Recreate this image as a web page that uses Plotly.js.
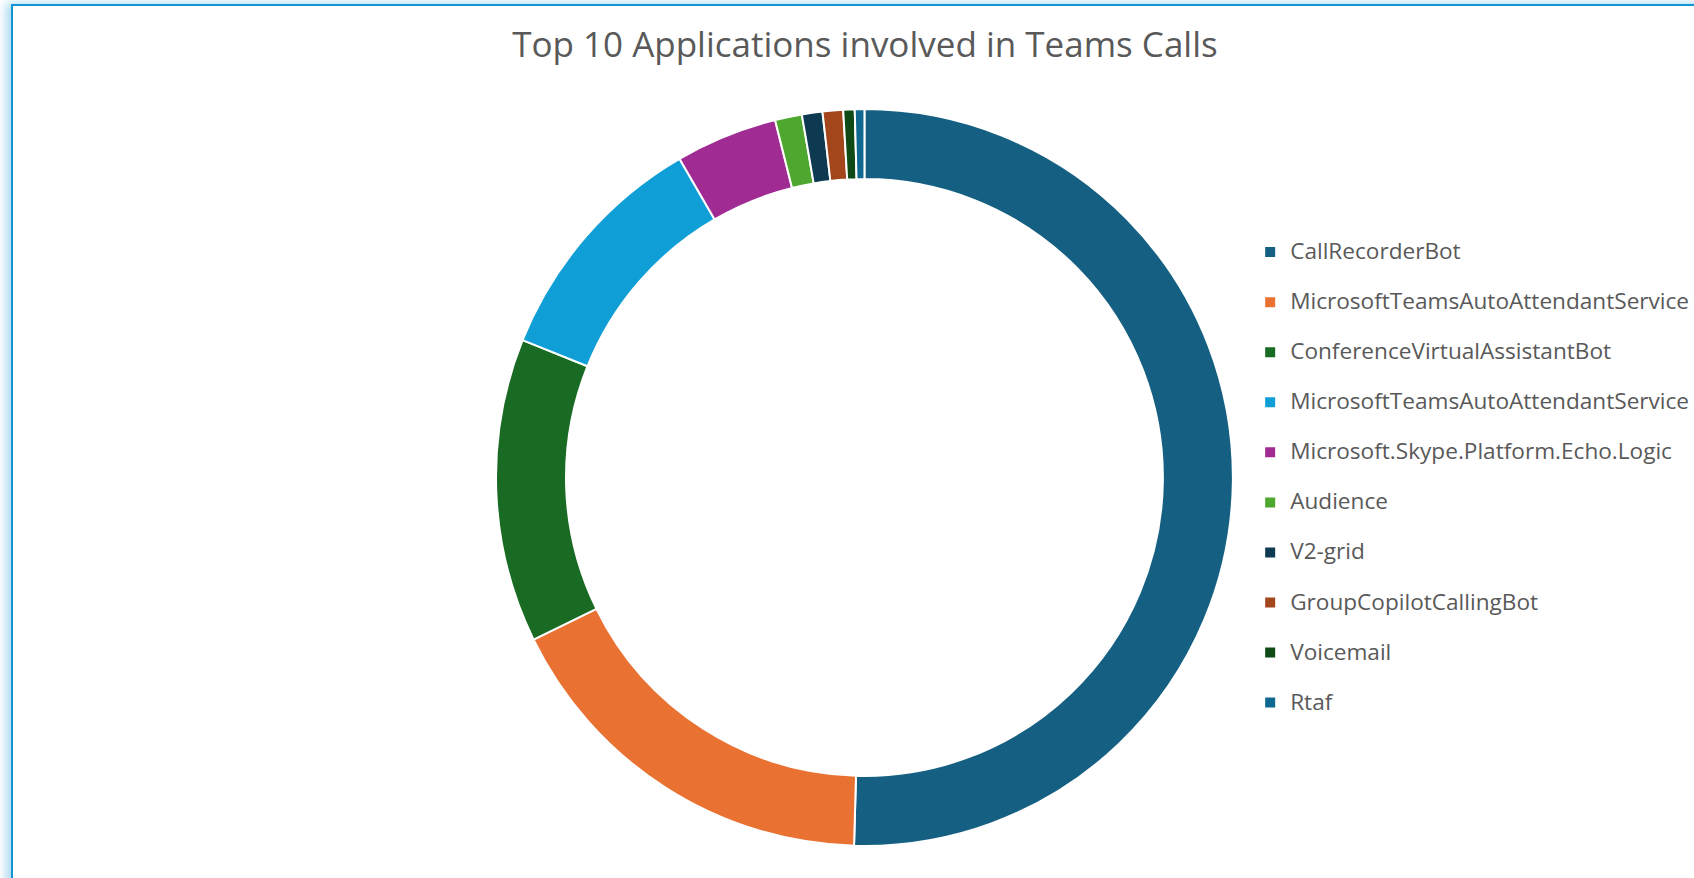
<!DOCTYPE html>
<html>
<head>
<meta charset="utf-8">
<script src="https://cdn.plot.ly/plotly-3.0.1.min.js"></script>
<style>
  html, body { margin: 0; padding: 0; background: #ffffff; overflow: hidden; }
  #frame { position: absolute; left: 11px; top: 4px; width: 2000px; height: 2000px;
           border: 2px solid #1196d3; box-shadow: -5px -1px 9px rgba(17,150,211,0.35); background: #fff; }
  #chart { position: absolute; left: 0; top: 0; width: 1694px; height: 878px; }
</style>
</head>
<body>
<div id="frame"></div>
<div id="chart"></div>
<script>
// Data (approximate shares in %)
const categories = [
  "CallRecorderBot",
  "MicrosoftTeamsAutoAttendantService",
  "ConferenceVirtualAssistantBot",
  "MicrosoftTeamsAutoAttendantService",
  "Microsoft.Skype.Platform.Echo.Logic",
  "Audience",
  "V2-grid",
  "GroupCopilotCallingBot",
  "Voicemail",
  "Rtaf"
];
const values = [50.45, 17.3, 13.33, 10.55, 4.47, 1.18, 0.9, 0.9, 0.5, 0.42];
const colors = ["#156082", "#E97132", "#196B24", "#0F9ED5", "#A02B93",
                "#4EA72E", "#0D3A50", "#A3461C", "#0F4A16", "#0E6890"];

// Pie merges identical labels, so keep duplicates distinct with a zero-width marker;
// the trailing blank line gives legend rows their taller spacing.
const seen = {};
const labels = categories.map(c => {
  let l = c;
  while (seen[l]) l += "\u200b";
  seen[l] = true;
  return "<span style='font-size:22.6px'>" + l + "</span><br>\u00a0";
});

const trace = {
  type: "pie",
  labels: labels,
  values: values,
  hole: 0.81,
  sort: false,
  direction: "clockwise",
  rotation: 0,
  textinfo: "none",
  hoverinfo: "skip",
  marker: { colors: colors, line: { color: "#ffffff", width: 2 } },
  domain: { x: [0.2928, 0.7278], y: [0.0364, 0.8759] }
};

const layout = {
  width: 1694,
  height: 878,
  margin: { l: 0, r: 0, t: 0, b: 0, autoexpand: false },
  paper_bgcolor: "rgba(0,0,0,0)",
  plot_bgcolor: "rgba(0,0,0,0)",
  font: { family: "Open Sans, sans-serif", color: "#595959" },
  title: {
    text: "Top 10 Applications involved in Teams Calls",
    font: { family: "Open Sans, sans-serif", size: 35, color: "#595959" },
    x: 0.5106, xanchor: "center", xref: "paper",
    y: 0.9493, yanchor: "middle", yref: "container"
  },
  showlegend: true,
  legend: {
    x: 0.738, xanchor: "left", xref: "paper",
    y: 0.7337, yanchor: "top", yref: "paper",
    orientation: "v",
    valign: "top",
    font: { family: "Open Sans, sans-serif", size: 18.1, color: "#595959" },
    bgcolor: "rgba(0,0,0,0)",
    borderwidth: 0,
    traceorder: "normal"
  }
};

Plotly.newPlot("chart", [trace], layout, { displayModeBar: false, staticPlot: true });
</script>
</body>
</html>
